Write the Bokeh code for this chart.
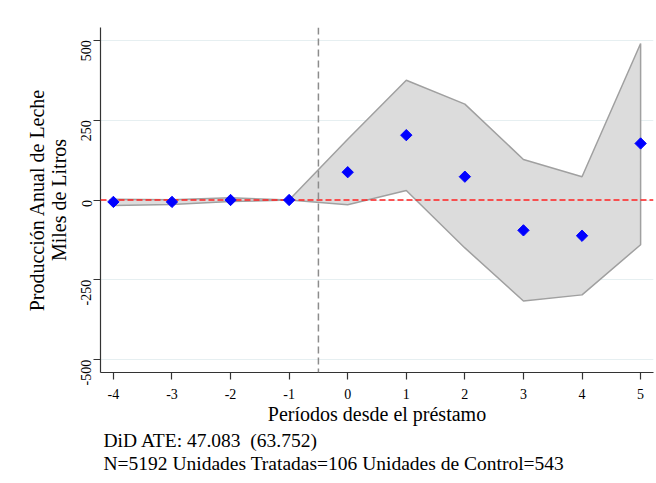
import math
from bokeh.plotting import figure
from bokeh.models import Span, Title, Range1d, FixedTicker
from bokeh.embed import file_html
from bokeh.resources import INLINE

periods = [-4, -3, -2, -1, 0, 1, 2, 3, 4, 5]
estimates = [-6, -6, 0, 0, 87, 203, 73, -95, -112, 177]
ci_upper = [2, 1, 7, 0, 190, 375, 300, 127, 73, 490]
ci_lower = [-17, -14, -5, 0, -15, 30, -150, -316, -297, -140]
y_ticks = [-500, -250, 0, 250, 500]
x_title = "Períodos desde el préstamo"
y_title = "Producción Anual de Leche\nMiles de Litros"
note_1 = "DiD ATE: 47.083\u00a0 (63.752)"
note_2 = "N=5192 Unidades Tratadas=106 Unidades de Control=543"

FONT = "Liberation Serif"

p = figure(width=656, height=483, output_backend="svg", toolbar_location=None,
           x_range=Range1d(-4.22, 5.22), y_range=Range1d(-540, 540),
           min_border_left=100, min_border_right=3, min_border_top=27,
           min_border_bottom=111)
p.outline_line_color = None
p.background_fill_color = "white"
p.border_fill_color = "white"

# grid
p.xgrid.visible = False
p.ygrid.ticker = FixedTicker(ticks=y_ticks)
p.ygrid.grid_line_color = "#e6eff1"
p.ygrid.grid_line_width = 1

# confidence band
band_x = periods + periods[::-1]
band_y = ci_upper + ci_lower[::-1]
p.patch(x=band_x, y=band_y, fill_color="#dcdcdc", line_color="#a0a0a0", line_width=1.5)

# reference lines
p.add_layout(Span(location=0, dimension="width", line_color="#ff2020",
                  line_dash="6 3", line_width=1.5))
p.add_layout(Span(location=-0.5, dimension="height", line_color="#8c8c8c",
                  line_dash="7 4", line_width=1.5))

# estimates
r = p.scatter(x=periods, y=estimates, marker="square", angle=math.pi / 4,
              size=8, fill_color="blue", line_color="blue")
r.level = "overlay"

# axes
for ax in (p.xaxis[0], p.yaxis[0]):
    ax.axis_line_color = "#333333"
    ax.axis_line_width = 1.2
    ax.major_tick_line_color = "#333333"
    ax.major_tick_line_width = 1.2
    ax.major_tick_out = 7
    ax.major_tick_in = 0
    ax.minor_tick_line_color = None
    ax.major_label_text_font = FONT
    ax.major_label_text_font_size = "14px"
    ax.major_label_text_color = "black"
    ax.axis_label_text_font = FONT
    ax.axis_label_text_font_size = "20px"
    ax.axis_label_text_font_style = "normal"
    ax.axis_label_text_color = "black"

p.xaxis.ticker = FixedTicker(ticks=periods)
p.xaxis.major_label_overrides = {v: str(v) for v in periods}
p.xaxis.major_label_standoff = 9
p.xaxis.axis_label = x_title
p.xaxis.axis_label_standoff = 1

p.yaxis.ticker = FixedTicker(ticks=y_ticks)
p.yaxis.major_label_overrides = {v: str(v) for v in y_ticks}
p.yaxis.major_label_orientation = math.pi / 2
p.yaxis.major_label_standoff = 7
p.yaxis.axis_label = y_title
p.yaxis.axis_label_standoff = 4
p.yaxis.axis_label_text_line_height = 1.0

# notes below the chart
for txt in (note_1, note_2):
    p.add_layout(Title(text=txt, align="left", offset=3, standoff=0,
                       text_font=FONT, text_font_size="19.5px",
                       text_font_style="normal", text_color="black",
                       text_line_height=0.85), "below")

open("out.html", "w").write(file_html(p, INLINE))
